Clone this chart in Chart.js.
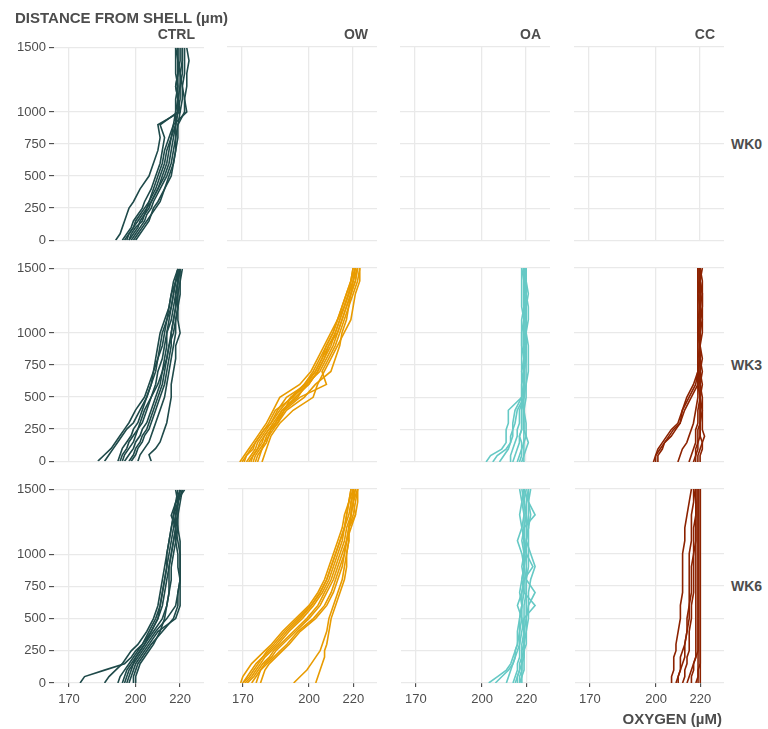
<!DOCTYPE html>
<html><head><meta charset="utf-8">
<script src="https://cdn.jsdelivr.net/npm/chart.js@4/dist/chart.umd.min.js"></script>
<style>
body{margin:0;background:#fff;width:768px;height:729px;position:relative;overflow:hidden;font-family:"Liberation Sans",Arial,sans-serif;}
.lbl{position:absolute;font-weight:bold;color:#4d4d4d;white-space:nowrap;line-height:1;}
canvas{position:absolute;}
</style></head><body>
<script>
// ---------- DATA ----------
const TREATMENTS = ['CTRL', 'OW', 'OA', 'CC'];
const WEEKS = ['WK0', 'WK3', 'WK6'];
const Y_TICKS = [0, 250, 500, 750, 1000, 1500];
const X_TICKS = [170, 200, 220];
const COLORS = ['#1f4a4a', '#e89b00', '#66c9c5', '#8c2200'];
const Y_TITLE = 'DISTANCE FROM SHELL (µm)';
const X_TITLE = 'OXYGEN (µM)';

// distance from shell (µm) shared by every profile
const DEPTH = [0, 50, 100, 150, 200, 250, 300, 400, 500, 600, 700, 800, 900, 1000, 1100, 1200, 1300, 1400, 1500];

// oxygen (µM) profiles, one array per profile, aligned with DEPTH
const CTRL_WK0 = [
  [191,193,194,195,196,197,199,202,206,208,210,211,210,220,219,219,218,218,218],
  [194,196,198,199,201,203,204,207,209,211,212,213,211,219,219,218,219,219,219],
  [196,197,199,200,202,204,206,208,210,212,213,215,217,218,218,219,219,220,220],
  [197,199,201,202,204,205,207,210,212,214,215,216,218,219,220,220,221,221,221],
  [198,200,202,204,205,207,208,211,214,216,217,218,218,219,219,220,220,219,219],
  [199,201,203,205,207,208,210,213,216,217,218,218,219,222,222,223,223,224,223],
  [195,197,199,201,203,205,206,209,211,213,214,216,217,223,222,221,222,222,222],
  [200,202,204,206,207,209,211,213,215,217,218,219,219,220,221,221,220,221,221],
  [197,198,200,203,204,206,207,210,213,215,216,217,218,218,219,218,219,219,218]
];
const CTRL_WK3 = [
  [183,186,189,191,193,195,197,200,204,206,208,209,210,211,213,215,216,218,219],
  [186,188,190,192,194,196,199,202,205,207,209,210,212,213,214,216,217,218,220],
  [192,193,194,196,198,199,201,203,205,207,208,210,211,212,214,215,216,217,219],
  [194,195,197,199,200,201,203,205,207,209,210,212,213,214,216,217,218,219,219],
  [197,199,200,202,203,205,206,208,210,212,213,214,215,217,218,219,219,220,220],
  [201,202,204,206,207,208,209,211,213,214,215,216,217,218,218,219,220,220,221],
  [207,206,209,211,212,213,214,215,216,216,217,218,218,220,219,219,218,219,219],
  [193,194,196,197,199,201,202,204,207,210,212,213,214,214,215,216,217,218,219],
  [195,197,199,200,202,203,205,207,209,211,212,214,215,216,217,218,219,219,220],
  [198,200,201,203,204,206,207,209,211,213,214,215,216,216,217,218,218,219,220]
];
const CTRL_WK6 = [
  [175,177,186,195,198,200,203,206,209,211,212,213,214,214,215,216,217,218,219],
  [186,188,191,194,196,198,201,205,208,210,211,212,213,214,215,216,217,218,220],
  [192,193,195,197,199,201,203,207,210,211,212,213,214,215,216,217,218,219,220],
  [194,195,196,198,200,202,204,208,212,214,215,216,216,217,218,219,219,220,221],
  [196,197,198,199,201,203,205,209,214,218,219,220,220,220,220,219,218,219,220],
  [197,198,199,200,202,204,206,210,218,220,220,220,220,220,219,218,217,219,221],
  [199,199,200,201,203,205,207,212,217,219,219,220,219,219,218,218,216,218,222],
  [200,200,201,202,204,206,208,211,213,214,215,215,215,216,217,218,219,219,218],
  [195,196,197,199,200,202,204,207,210,212,213,214,215,216,217,218,218,219,220]
];
const OW_WK3 = [
  [169,171,173,175,177,179,181,184,187,196,201,204,207,210,213,215,217,219,220],
  [171,172,174,176,178,180,183,187,192,198,203,206,209,212,214,216,218,219,221],
  [172,174,176,177,179,181,183,186,190,199,205,208,211,213,215,217,219,221,222],
  [173,175,177,178,180,182,184,188,194,200,204,207,210,212,214,216,218,220,221],
  [175,176,178,180,181,183,185,189,196,208,206,209,212,214,216,218,219,221,222],
  [170,172,175,176,178,180,182,185,193,198,202,205,208,211,213,215,217,219,220],
  [177,178,179,181,182,184,186,190,198,203,210,212,214,215,217,218,220,222,223],
  [179,180,181,182,183,185,187,193,202,204,207,210,213,216,219,220,221,223,223],
  [174,175,177,179,180,182,185,188,195,199,203,206,208,211,213,216,218,220,222],
  [176,177,179,180,182,183,186,189,192,200,204,207,209,213,215,217,219,220,221]
];
const OW_WK6 = [
  [169,170,172,174,177,180,183,188,194,200,204,207,209,211,213,215,216,218,219],
  [170,172,174,176,179,182,185,190,196,201,205,208,210,212,214,216,217,218,220],
  [171,174,176,178,180,183,186,191,197,202,206,209,211,213,215,216,218,219,221],
  [172,175,177,179,182,184,187,193,199,204,207,210,212,214,216,217,219,220,221],
  [174,176,178,180,183,185,188,194,200,205,208,211,213,215,217,218,220,221,222],
  [176,177,178,181,184,187,190,195,202,207,210,212,214,216,217,219,221,222,222],
  [178,179,180,182,185,188,191,196,203,208,211,213,215,216,217,218,221,220,222],
  [193,196,199,201,203,205,206,208,209,211,213,215,216,217,218,218,219,219,220],
  [203,204,205,206,207,207,208,209,210,212,214,216,217,217,218,218,219,220,220],
  [170,173,175,177,179,181,184,189,195,201,205,208,210,212,214,216,217,218,219]
];
const OA_WK3 = [
  [202,204,209,211,211,211,212,212,218,219,219,219,220,219,219,220,219,219,219],
  [205,207,211,213,213,214,214,215,218,218,218,218,218,218,219,218,218,218,218],
  [208,210,212,213,214,214,215,216,219,219,219,220,219,220,220,219,220,220,219],
  [213,213,214,215,216,216,217,217,219,219,218,219,219,219,219,219,219,219,220],
  [216,217,218,218,217,218,218,218,218,218,219,219,218,218,218,219,219,220,219],
  [218,219,219,219,220,220,220,219,219,220,220,220,220,220,220,220,221,220,220],
  [219,219,220,221,220,219,219,219,220,220,221,221,221,220,220,220,220,219,219],
  [217,218,218,219,219,219,219,219,218,219,219,220,220,220,221,221,220,220,220],
  [214,215,216,217,217,218,218,218,219,219,219,219,219,219,219,219,219,219,218]
];
const OA_WK6 = [
  [203,207,211,213,214,215,216,216,217,218,217,218,219,219,218,219,219,218,217],
  [206,209,212,214,215,216,217,217,218,218,218,219,218,219,219,219,220,219,218],
  [211,212,213,214,215,215,216,217,217,218,219,218,219,220,219,218,219,219,219],
  [214,215,216,216,217,217,217,218,219,224,219,219,223,220,219,219,224,221,219],
  [216,216,217,217,218,218,218,219,219,219,220,220,219,219,220,220,220,219,220],
  [217,217,218,218,219,219,219,220,220,221,224,220,220,220,220,221,220,220,221],
  [218,218,219,219,219,219,220,220,221,221,221,222,224,222,220,221,222,221,222],
  [215,216,217,218,218,218,219,219,218,216,218,219,219,218,216,218,217,218,219],
  [217,218,218,218,218,219,219,219,220,220,220,220,221,221,221,221,221,221,221]
];
const CC_WK3 = [
  [199,200,201,203,205,207,210,212,214,217,219,219,219,219,219,219,219,219,219],
  [200,200,202,204,206,208,211,212,215,218,219,219,220,219,219,220,219,219,219],
  [201,201,203,204,207,209,211,213,216,219,220,220,220,220,220,220,220,220,220],
  [210,211,212,214,215,216,217,218,219,219,219,220,220,219,219,219,219,220,220],
  [215,216,217,218,218,218,219,219,220,220,219,219,219,219,220,220,220,219,219],
  [217,218,218,219,219,219,220,220,220,219,219,220,220,220,220,221,221,221,220],
  [219,219,220,221,220,220,220,221,221,220,220,221,220,220,221,221,221,220,220],
  [220,220,221,221,222,221,221,221,220,221,220,220,220,220,220,220,221,220,220],
  [218,218,219,219,220,220,220,220,220,220,221,220,220,221,221,220,220,220,221]
];
const CC_WK6 = [
  [207,207,208,208,208,209,209,210,211,211,212,212,212,212,213,213,214,215,216],
  [210,210,211,211,211,212,213,214,214,215,215,215,215,215,216,216,216,217,217],
  [209,210,211,212,213,213,213,214,215,215,216,216,216,217,217,217,218,218,218],
  [212,213,213,214,214,215,215,215,216,216,217,217,217,217,218,218,218,218,218],
  [214,215,216,217,218,219,219,219,219,219,219,219,219,219,219,219,219,219,219],
  [216,216,217,217,218,218,218,218,218,218,218,218,218,218,218,218,218,218,217],
  [219,219,219,219,219,219,219,219,219,219,219,219,219,219,219,219,219,219,219],
  [220,220,220,220,220,220,220,220,220,220,220,220,220,220,220,220,220,220,220],
  [218,219,219,220,220,220,220,220,220,220,220,220,220,220,220,220,220,220,220]
];

// panel grid: rows = weeks, columns = treatments
const PANELS = [
  [CTRL_WK0, [], [], []],
  [CTRL_WK3, OW_WK3, OA_WK3, CC_WK3],
  [CTRL_WK6, OW_WK6, OA_WK6, CC_WK6]
];

// ---------- LAYOUT ----------
const FONT = '"Liberation Sans", Arial, sans-serif';
const PANEL_LEFT = [54, 227, 400, 574];
const PANEL_TOP = [47, 268, 489];
const PW = 150, PH = 194;
const Y_AXIS_W = 54, X_AXIS_H = 32, PAD = 10;
const X_MIN = 163.25, X_MAX = 230.75;

function addLabel(text, style) {
  const d = document.createElement('div');
  d.className = 'lbl';
  d.textContent = text;
  Object.assign(d.style, style);
  document.body.appendChild(d);
  return d;
}

for (let r = 0; r < WEEKS.length; r++) {
  for (let c = 0; c < TREATMENTS.length; c++) {
    const hasY = c === 0, hasX = r === WEEKS.length - 1;
    const cv = document.createElement('canvas');
    const w = PW + (hasY ? Y_AXIS_W : 0);
    const h = PAD + PH + (hasX ? X_AXIS_H : PAD);
    cv.width = w; cv.height = h;
    cv.style.width = w + 'px'; cv.style.height = h + 'px';
    cv.style.left = (PANEL_LEFT[c] - (hasY ? Y_AXIS_W : 0)) + 'px';
    cv.style.top = (PANEL_TOP[r] - PAD) + 'px';
    document.body.appendChild(cv);

    const profiles = PANELS[r][c];
    const datasets = profiles.map(p => ({
      data: DEPTH.map((d, i) => ({ x: p[i], y: d })),
      borderColor: COLORS[c],
      borderWidth: 1.6,
      pointRadius: 0,
      showLine: true,
      fill: false,
      tension: 0
    }));

    new Chart(cv, {
      type: 'scatter',
      data: { datasets },
      options: {
        responsive: false,
        animation: false,
        events: [],
        layout: { padding: { top: PAD, bottom: hasX ? 0 : PAD, left: 0, right: 0 } },
        plugins: { legend: { display: false }, tooltip: { enabled: false } },
        scales: {
          x: {
            type: 'linear', min: X_MIN, max: X_MAX,
            afterBuildTicks: s => { s.ticks = X_TICKS.map(v => ({ value: v })); },
            afterFit: s => { s.height = hasX ? X_AXIS_H : 0; },
            border: { display: false },
            grid: { color: '#e9e9e9', lineWidth: 1.3, drawTicks: hasX, tickLength: 4, tickColor: '#333333', tickWidth: 1 },
            ticks: { display: hasX, padding: 5, color: '#4d4d4d', font: { family: FONT, size: 13 }, maxRotation: 0, autoSkip: false, callback: v => String(v) }
          },
          y: {
            type: 'linear', min: 0, max: 1500,
            afterBuildTicks: s => { s.ticks = Y_TICKS.map(v => ({ value: v })); },
            afterFit: s => { s.width = hasY ? Y_AXIS_W : 0; },
            border: { display: false },
            grid: { color: '#e9e9e9', lineWidth: 1.3, drawTicks: hasY, tickLength: 5, tickColor: '#333333', tickWidth: 1 },
            ticks: { display: hasY, padding: 3, color: '#4d4d4d', font: { family: FONT, size: 13 }, autoSkip: false, callback: v => String(v) }
          }
        }
      }
    });
  }
}

// strip labels (columns)
TREATMENTS.forEach((t, c) => {
  addLabel(t, { left: (PANEL_LEFT[c]) + 'px', width: (PW - 9) + 'px', textAlign: 'right', top: '27px', fontSize: '14px' });
});
// strip labels (rows)
WEEKS.forEach((wk, r) => {
  addLabel(wk, { left: '731px', top: (PANEL_TOP[r] + PH / 2 - 7) + 'px', fontSize: '14px' });
});
// axis titles
addLabel(Y_TITLE, { left: '15px', top: '10px', fontSize: '15px' });
addLabel(X_TITLE, { left: '500px', width: '222px', textAlign: 'right', top: '711px', fontSize: '15px' });
</script>
</body></html>
